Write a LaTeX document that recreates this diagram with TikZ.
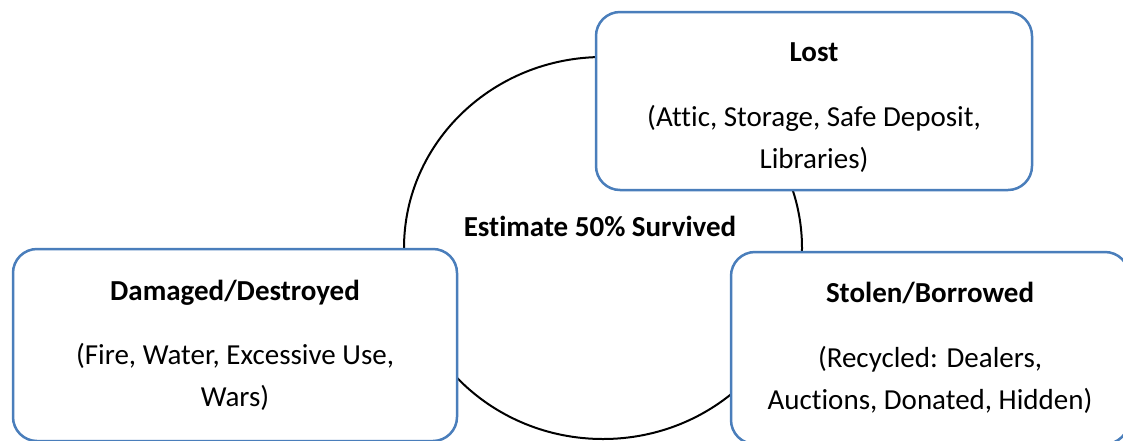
\documentclass[tikz,border=0pt]{standalone}
\usepackage{fontspec}
\setmainfont[Ligatures=NoCommon]{Carlito}
\usepackage{xcolor}
\usetikzlibrary{shapes,positioning}
\definecolor{boxblue}{HTML}{4A7EBB}
\tikzset{
  catbox/.style={rectangle, rounded corners=24pt, draw=boxblue, line width=2.5pt, fill=white},
  cattext/.style={align=center, font=\fontsize{29}{42}\selectfont, inner sep=0pt}
}

\begin{document}
\begin{tikzpicture}[x=1pt, y=-1pt]
            \useasboundingbox (0,0) rectangle (1123,440);
            \node[ellipse, draw=black, line width=2pt, minimum width=398pt, minimum height=382pt] (survived) at (603,248) {};
            \node[cattext, font=\fontsize{29}{42}\selectfont\bfseries] (est) at (600,226) {Estimate 50\% Survived};
            \node[catbox, minimum width=436pt, minimum height=178pt] (lost) at (814,101) {};
            \node[catbox, minimum width=444pt, minimum height=192pt] (damaged) at (235,345) {};
            \node[catbox, minimum width=398pt, minimum height=192pt] (stolen) at (930,348) {};
            \node[cattext] (losttxt) at (814,108) {\textbf{Lost}\\[23pt](Attic, Storage, Safe Deposit,\\Libraries)};
            \node[cattext] (damagedtxt) at (damaged) {\textbf{Damaged/Destroyed}\\[22pt](Fire, Water, Excessive Use,\\Wars)};
            \node[cattext] (stolentxt) at (stolen) {\textbf{Stolen/Borrowed}\\[23pt](Recycled: Dealers,\\Auctions, Donated, Hidden)};
        \end{tikzpicture}
\end{document}
